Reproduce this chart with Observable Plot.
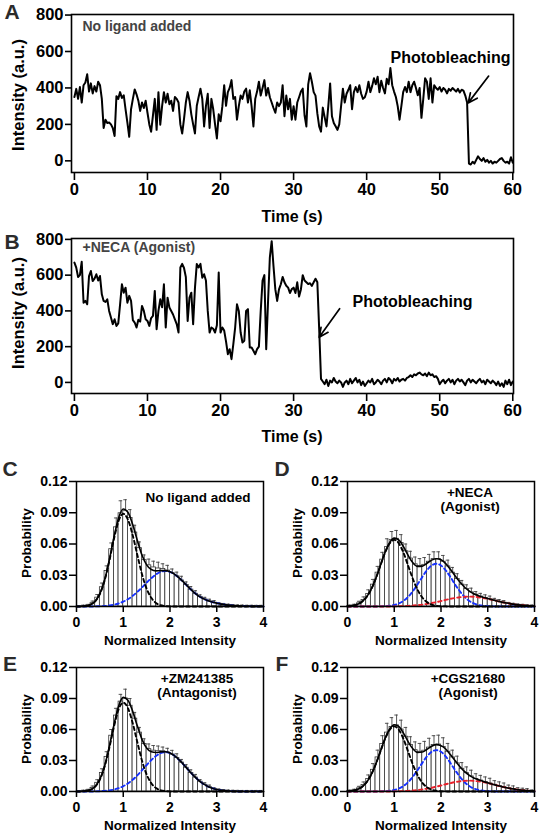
<!DOCTYPE html>
<html><head><meta charset="utf-8">
<script src="https://cdn.jsdelivr.net/npm/d3@7"></script>
<script src="https://cdn.jsdelivr.net/npm/@observablehq/plot@0.6"></script>
<style>
body{margin:0;background:#fff;}
#fig{position:relative;width:542px;height:837px;overflow:hidden;font-family:"Liberation Sans",Arial,Helvetica,sans-serif;font-weight:bold;color:#000;}
#fig svg{position:absolute;overflow:visible;}
.lbl{position:absolute;white-space:nowrap;line-height:1;}
</style></head><body><div id="fig"></div>
<script>
const FONT = '"Liberation Sans", Arial, Helvetica, sans-serif';

// ---------- data ----------
const timeTicks = [0, 10, 20, 30, 40, 50, 60];
const intensityTicks = [0, 200, 400, 600, 800];
const probTicks = [0, 0.03, 0.06, 0.09, 0.12];
const normTicks = [0, 1, 2, 3, 4];
const frameStep = 0.25; // s between trace samples

// Panel A trace (intensity, a.u.)
const traceA = [
350,395,340,405,320,415,430,475,380,425,370,410,380,434,415,340,180,226,208,210,
200,180,136,355,340,377,345,360,283,210,132,283,340,392,365,330,274,320,290,330,
264,200,160,250,340,170,377,198,300,377,320,368,311,330,274,350,340,320,200,150,
230,320,377,330,255,200,150,302,350,396,340,189,300,368,180,340,283,200,123,255,
217,300,415,302,377,400,443,340,350,226,300,358,340,380,396,320,387,300,189,340,
380,434,358,400,443,358,400,349,320,290,264,320,300,320,415,245,358,283,340,226,
300,226,320,349,380,396,250,189,420,481,434,377,358,260,189,160,292,240,189,300,
425,245,208,190,170,200,300,396,320,368,390,415,283,377,405,377,415,368,340,349,
380,434,377,410,453,420,462,377,440,400,370,450,420,509,415,380,350,300,226,300,
377,405,377,434,377,415,434,400,360,400,236,340,453,434,340,453,320,415,400,390,
405,380,400,390,370,395,385,400,390,380,395,375,390,385,358,320,-15,-20,-5,-15,
5,25,10,0,15,-5,5,-10,0,-15,-5,-10,0,10,15,0,-10,-5,-15,20,
-10];

// Panel B trace (intensity, a.u.)
const traceB = [
670,642,590,600,675,446,456,437,595,623,567,580,605,570,595,493,456,450,465,400,
363,326,353,316,330,437,549,502,530,446,484,456,348,335,307,350,340,428,400,353,
344,316,360,372,512,298,400,465,420,549,307,474,419,400,380,353,326,279,643,663,
640,590,344,474,502,326,530,663,643,663,586,605,570,400,279,307,300,279,320,615,
279,307,290,230,158,186,130,214,307,437,400,279,223,233,400,410,195,195,177,158,
186,200,400,570,600,186,450,700,790,650,520,456,520,549,590,560,541,530,500,522,
530,500,560,480,520,600,570,560,550,555,540,560,580,560,300,20,5,-10,15,-20,
10,0,25,5,-5,10,0,-25,0,10,-10,20,-5,10,25,0,15,-15,5,-20,
-5,10,0,20,-10,0,15,5,-10,10,20,0,25,15,-5,20,10,25,5,15,
20,10,25,30,40,30,45,40,50,55,45,40,50,35,55,40,45,30,35,20,
-10,5,15,-5,10,20,0,15,-10,10,20,5,15,0,-15,10,20,0,15,5,
-5,10,20,0,10,-10,15,5,-5,10,0,-15,5,-20,-5,-25,10,-10,15,-15,
5];

const arrowA = [{x1: 56.7, y1: 465, x2: 53.9, y2: 318}];
const arrowB = [{x1: 36.3, y1: 412, x2: 33.5, y2: 252}];

// Histograms: 40 bins of width 0.1 on [0, 4]
const binWidth = 0.1;
const barsC = [0,.0003,.0010,.0032,.0085,.0185,.0340,.0550,.0760,.0895,.0915,.0850,.0710,.0560,.0445,.0395,.0375,.0365,.0360,.0345,.0320,.0290,.0250,.0206,.0162,.0122,.0092,.0068,.0050,.0037,.0027,.0019,.0013,.0009,.0006,.0004,.0002,.0002,.0001,.0001];
const errC  = [.0005,.001,.001,.002,.003,.004,.005,.006,.009,.012,.011,.008,.007,.006,.005,.006,.006,.006,.005,.005,.004,.004,.004,.003,.003,.003,.002,.002,.002,.002,.001,.001,.001,.001,.001,.001,.001,.001,.001,.001];
const barsD = [.0004,.0012,.0030,.0062,.0120,.0210,.0325,.0450,.0570,.0640,.0650,.0610,.0530,.0460,.0405,.0390,.0400,.0430,.0455,.0455,.0430,.0385,.0325,.0265,.0210,.0168,.0136,.0113,.0096,.0082,.0070,.0058,.0047,.0037,.0029,.0021,.0015,.0011,.0008,.0005];
const errD  = [.001,.001,.002,.003,.004,.005,.006,.007,.008,.008,.008,.008,.007,.007,.007,.007,.007,.007,.007,.007,.006,.006,.005,.005,.004,.004,.004,.003,.003,.003,.003,.002,.002,.002,.001,.001,.001,.001,.001,.001];
const barsE = [0,.0003,.0011,.0033,.0084,.0180,.0335,.0540,.0735,.0870,.0900,.0830,.0705,.0570,.0460,.0410,.0395,.0390,.0390,.0378,.0358,.0325,.0280,.0230,.0180,.0135,.0095,.0065,.0042,.0026,.0015,.0009,.0005,.0002,.0001,0,0,0,0,0];
const errE  = [.0005,.001,.001,.002,.003,.004,.005,.006,.007,.007,.009,.007,.006,.005,.005,.005,.005,.005,.004,.004,.004,.004,.003,.003,.003,.003,.002,.002,.002,.001,.001,.001,.001,.001,.001,.001,.001,.001,.001,.001];
const barsF = [.0004,.0012,.0030,.0062,.0120,.0210,.0330,.0460,.0570,.0625,.0640,.0600,.0530,.0450,.0400,.0385,.0395,.0425,.0450,.0455,.0430,.0385,.0330,.0272,.0220,.0178,.0146,.0122,.0106,.0091,.0078,.0065,.0053,.0042,.0032,.0024,.0017,.0012,.0008,.0005];
const errF  = [.001,.001,.002,.003,.004,.006,.007,.008,.009,.009,.010,.009,.009,.008,.008,.008,.009,.009,.009,.009,.009,.008,.007,.007,.006,.006,.006,.005,.005,.005,.005,.004,.004,.004,.003,.003,.002,.002,.002,.001];

// Fit curves sampled at x = 0, 0.1, ..., 4.0 (41 values)
const fitStep = 0.1;
const totalC = [0,.0001,.0005,.0018,.0051,.0123,.0252,.0443,.0663,.0850,.0936,.0904,.0789,.0637,.0494,.0400,.0355,.0342,.0344,.0344,.0333,.0308,.0272,.0229,.0183,.0140,.0105,.0078,.0058,.0043,.0032,.0023,.0016,.0011,.0007,.0005,.0003,.0002,.0001,.0001,0];
const peak1C = [0,.0001,.0005,.0018,.0050,.0120,.0247,.0433,.0646,.0821,.0890,.0834,.0688,.0497,.0311,.0171,.0083,.0034,.0012,.0004,.0001,0,0,0,0,0,0,0,0,0,0,0,0,0,0,0,0,0,0,0,0];
const peak2C = [0,0,0,0,.0001,.0003,.0005,.0010,.0017,.0029,.0046,.0070,.0101,.0140,.0183,.0229,.0272,.0308,.0332,.0340,.0332,.0308,.0272,.0229,.0183,.0140,.0105,.0078,.0058,.0043,.0032,.0023,.0016,.0011,.0007,.0005,.0003,.0002,.0001,.0001,0];

const totalD = [.0002,.0007,.0018,.0042,.0086,.0159,.0263,.0389,.0516,.0612,.0656,.0637,.0572,.0488,.0420,.0385,.0388,.0415,.0445,.0459,.0448,.0412,.0357,.0295,.0237,.0187,.0150,.0123,.0104,.0089,.0076,.0064,.0052,.0042,.0033,.0025,.0018,.0013,.0009,.0006,.0004];
const peak1D = [.0002,.0007,.0018,.0042,.0086,.0159,.0263,.0388,.0513,.0605,.0640,.0605,.0513,.0388,.0263,.0159,.0086,.0042,.0018,.0007,.0002,.0001,0,0,0,0,0,0,0,0,0,0,0,0,0,0,0,0,0,0,0];
const peak2D = [0,0,0,0,0,0,0,.0001,.0003,.0007,.0015,.0030,.0055,.0094,.0148,.0213,.0284,.0348,.0394,.0410,.0394,.0348,.0284,.0213,.0148,.0094,.0055,.0030,.0015,.0007,.0003,.0001,0,0,0,0,0,0,0,0,0];
const peak3D = [0,0,0,0,0,0,0,0,0,0,.0001,.0002,.0004,.0006,.0009,.0013,.0018,.0025,.0033,.0042,.0052,.0063,.0073,.0082,.0089,.0093,.0095,.0093,.0089,.0082,.0073,.0063,.0052,.0042,.0033,.0025,.0018,.0013,.0009,.0006,.0004];

const totalE = [0,.0001,.0005,.0017,.0049,.0119,.0245,.0430,.0643,.0826,.0911,.0884,.0778,.0636,.0505,.0421,.0384,.0377,.0383,.0384,.0372,.0344,.0304,.0256,.0205,.0156,.0113,.0078,.0051,.0032,.0019,.0011,.0006,.0003,.0001,0,0,0,0,0,0];
const peak1E = [0,.0001,.0005,.0017,.0048,.0116,.0239,.0419,.0624,.0794,.0860,.0806,.0665,.0480,.0300,.0165,.0080,.0033,.0012,.0004,.0001,0,0,0,0,0,0,0,0,0,0,0,0,0,0,0,0,0,0,0,0];
const peak2E = [0,0,0,0,.0001,.0003,.0006,.0011,.0019,.0032,.0051,.0078,.0113,.0156,.0205,.0256,.0304,.0344,.0371,.0380,.0371,.0344,.0304,.0256,.0205,.0156,.0113,.0078,.0051,.0032,.0019,.0011,.0006,.0003,.0001,0,0,0,0,0,0];

const totalF = [.0002,.0007,.0018,.0041,.0085,.0157,.0259,.0383,.0508,.0603,.0646,.0627,.0563,.0480,.0413,.0379,.0382,.0409,.0438,.0454,.0444,.0411,.0358,.0299,.0242,.0195,.0159,.0132,.0113,.0098,.0084,.0071,.0058,.0047,.0036,.0028,.0020,.0014,.0010,.0006,.0004];
const peak1F = [.0002,.0007,.0018,.0041,.0085,.0157,.0259,.0382,.0505,.0596,.0630,.0596,.0505,.0382,.0259,.0157,.0085,.0041,.0018,.0007,.0002,.0001,0,0,0,0,0,0,0,0,0,0,0,0,0,0,0,0,0,0,0];
const peak2F = [0,0,0,0,0,0,0,.0001,.0003,.0007,.0015,.0029,.0054,.0092,.0144,.0208,.0277,.0340,.0384,.0400,.0384,.0340,.0277,.0208,.0144,.0092,.0054,.0029,.0015,.0007,.0003,.0001,0,0,0,0,0,0,0,0,0];
const peak3F = [0,0,0,0,0,0,0,0,0,0,.0001,.0002,.0004,.0006,.0010,.0014,.0020,.0028,.0036,.0047,.0058,.0070,.0081,.0091,.0098,.0103,.0105,.0103,.0098,.0091,.0081,.0070,.0058,.0047,.0036,.0028,.0020,.0014,.0010,.0006,.0004];

// ---------- drawing ----------
const fig = document.getElementById("fig");
function place(svg, left, top) {
  svg.style.left = left + "px"; svg.style.top = top + "px";
  fig.appendChild(svg);
}
function label(text, cx, cy, size, opts = {}) {
  const d = document.createElement("div");
  d.className = "lbl";
  d.textContent = text;
  d.style.fontSize = size + "px";
  d.style.left = cx + "px"; d.style.top = cy + "px";
  d.style.color = opts.color || "#000";
  d.style.transform = "translate(-50%,-50%)" + (opts.rotate ? " rotate(-90deg)" : "");
  fig.appendChild(d);
}

function tracePanel(values, arrow, note, pbDx, pbDy, noteDy, h, mt, yDomain) {
  const data = values.map((v, i) => ({t: i * frameStep, v}));
  return Plot.plot({
    width: 542, height: h,
    marginLeft: 71, marginRight: 29, marginTop: mt, marginBottom: 28,
    x: {domain: [-0.4, 60.1]},
    y: {domain: yDomain},
    style: {fontFamily: FONT, fontSize: "16.5px", fontWeight: "bold", color: "#000", background: "transparent", overflow: "visible"},
    marks: [
      Plot.line(data, {x: "t", y: "v", stroke: "#000", strokeWidth: 2, strokeLinejoin: "round"}),
      Plot.frame({stroke: "#000", strokeWidth: 1.6}),
      Plot.axisX({ticks: timeTicks, tickFormat: d3.format("d"), tickSize: 8, tickPadding: 3, label: null, strokeWidth: 1.6}),
      Plot.axisY({ticks: intensityTicks, tickFormat: d3.format("d"), tickSize: 6, tickPadding: 2, label: null, strokeWidth: 1.6}),
      Plot.text([note], {frameAnchor: "top-left", dx: 11, dy: noteDy, lineAnchor: "top", textAnchor: "start", fill: "#444", fontSize: 14}),
      Plot.text(["Photobleaching"], {frameAnchor: "top-right", dx: pbDx, dy: pbDy, lineAnchor: "top", textAnchor: "end", fill: "#000", fontSize: 16}),
      Plot.arrow(arrow, {x1: "x1", y1: "y1", x2: "x2", y2: "y2", stroke: "#000", strokeWidth: 1.7, headLength: 9, headAngle: 50})
    ]
  });
}

function histPanel(bars, errs, total, p1, p2, p3, note, noteDx, noteDy, h, mt) {
  const bins = bars.map((p, i) => ({x1: i * binWidth, x2: (i + 1) * binWidth, p, e: errs[i]}));
  const fit = total.map((v, i) => ({x: i * fitStep, total: v, p1: p1[i], p2: p2[i], p3: p3 ? p3[i] : null}));
  const dash = {strokeWidth: 1.9, strokeDasharray: "3.5,3", curve: "monotone-x"};
  const marks = [
    Plot.rect(bins, {x1: "x1", x2: "x2", y1: 0, y2: "p", fill: "#fff", stroke: "#333", strokeWidth: 0.8}),
    Plot.ruleX(bins, {x: d => (d.x1 + d.x2) / 2, y1: "p", y2: d => d.p + d.e, stroke: "#444", strokeWidth: 0.9}),
    Plot.ruleY(bins, {x1: d => d.x1 + 0.012, x2: d => d.x2 - 0.012, y: d => d.p + d.e, stroke: "#444", strokeWidth: 0.9}),
    Plot.line(fit, {x: "x", y: "p2", stroke: "#1530ff", ...dash})
  ];
  if (p3) marks.push(Plot.line(fit, {x: "x", y: "p3", stroke: "#e8202a", ...dash}));
  marks.push(
    Plot.line(fit, {x: "x", y: "p1", stroke: "#000", ...dash}),
    Plot.line(fit, {x: "x", y: "total", stroke: "#000", strokeWidth: 1.6, curve: "monotone-x"}),
    Plot.frame({stroke: "#000", strokeWidth: 1.5}),
    Plot.axisX({ticks: normTicks, tickFormat: d3.format("d"), tickSize: 6, tickPadding: 5, label: null, strokeWidth: 1.5}),
    Plot.axisY({ticks: probTicks, tickFormat: d3.format(".2f"), tickSize: 7, tickPadding: 2, label: null, strokeWidth: 1.5}),
    Plot.text([note], {frameAnchor: "top", dx: noteDx, dy: noteDy, lineAnchor: "top", textAnchor: "middle", fill: "#000", fontSize: 13.5, lineHeight: 1.05})
  );
  return Plot.plot({
    width: 271, height: h,
    marginLeft: 76, marginRight: 8, marginTop: mt, marginBottom: 25,
    x: {domain: [0, 4]},
    y: {domain: [0, 0.12]},
    style: {fontFamily: FONT, fontSize: "14px", fontWeight: "bold", color: "#000", background: "transparent", overflow: "visible"},
    marks
  });
}

// Panel A
place(tracePanel(traceA, arrowA, "No ligand added", -3, 37, 7, 200, 14, [-64, 803]), 0, 0);
// Panel B
place(tracePanel(traceB, arrowB, "+NECA (Agonist)", -41, 57, 4, 197, 14, [-62, 805]), 0, 224);
// Panels C-F
place(histPanel(barsC, errC, totalC, peak1C, peak2C, null, "No ligand added", 28, 10, 162, 12), 0, 469);
place(histPanel(barsD, errD, totalD, peak1D, peak2D, peak3D, "+NECA\n(Agonist)", 29, 5, 162, 12), 271, 469);
place(histPanel(barsE, errE, totalE, peak1E, peak2E, null, "+ZM241385\n(Antagonist)", 27, 5, 161, 12), 0, 655);
place(histPanel(barsF, errF, totalF, peak1F, peak2F, peak3F, "+CGS21680\n(Agonist)", 27, 5, 161, 12), 271, 655);

// Axis titles
label("Intensity (a.u.)", 18, 95, 16.5, {rotate: true});
label("Time (s)", 292, 217, 16);
label("Intensity (a.u.)", 18, 313, 16.5, {rotate: true});
label("Time (s)", 292, 437, 16);
label("Probability", 27, 543, 13.5, {rotate: true});
label("Probability", 298, 543, 13.5, {rotate: true});
label("Probability", 27, 729, 13.5, {rotate: true});
label("Probability", 298, 729, 13.5, {rotate: true});
label("Normalized Intensity", 170, 641, 13.5);
label("Normalized Intensity", 441, 641, 13.5);
label("Normalized Intensity", 170, 826, 13.5);
label("Normalized Intensity", 441, 826, 13.5);

// Panel letters
const letters = [["A", 12, 11], ["B", 12, 241], ["C", 10, 468], ["D", 282, 468], ["E", 10, 663], ["F", 282, 663]];
letters.forEach(([t, x, y]) => label(t, x, y, 21, {color: "#2b2b2b"}));
</script></body></html>
